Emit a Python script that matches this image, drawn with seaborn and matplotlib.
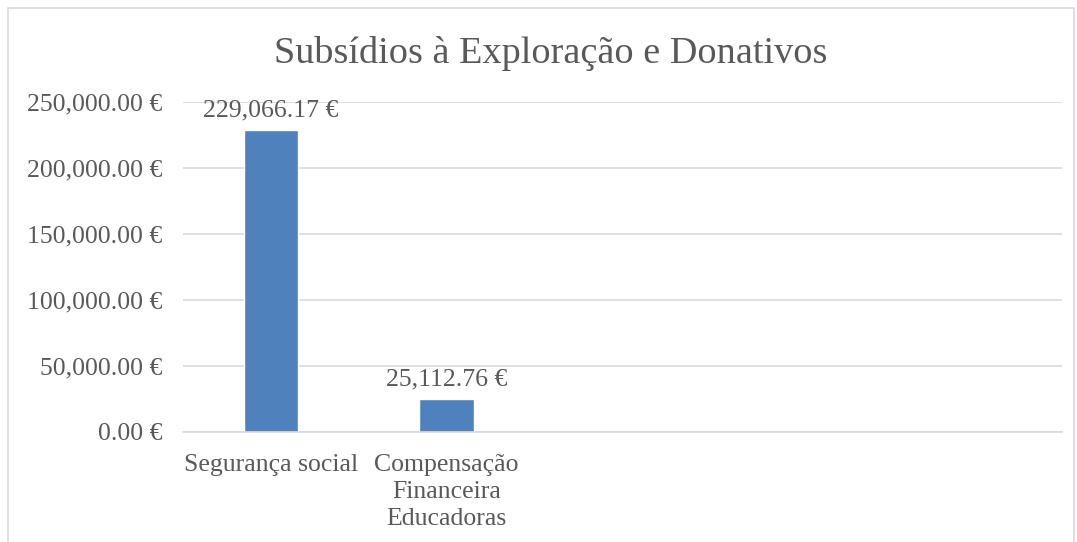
import numpy as np
import pandas as pd
import matplotlib
matplotlib.use("Agg")
import matplotlib.pyplot as plt
import seaborn as sns
from matplotlib.patches import Rectangle

categories = ["Segurança social", "Compensação\nFinanceira\nEducadoras", " ", "  ", "   "]
values = [229066.17, 25112.76, np.nan, np.nan, np.nan]
yticks = [0, 50000, 100000, 150000, 200000, 250000]
title = "Subsídios à Exploração e Donativos"

sns.set_theme(style="white")
plt.rcParams['font.family'] = ['Liberation Serif', 'DejaVu Serif']
text_color = "#595959"

fig = plt.figure(figsize=(10.77, 5.42), dpi=100)
ax = fig.add_axes([0.170, 0.203, 0.816, 0.609])

df = pd.DataFrame({"cat": categories, "val": values})
sns.barplot(data=df, x="cat", y="val", order=categories, color="#4f81bd",
            width=0.31, saturation=1, ax=ax)

ax.set_ylim(0, 250000)
ax.set_yticks(yticks)
ax.set_yticklabels([f"{v:,.2f} €" for v in yticks], fontsize=18.5, color=text_color)
ax.set_xticks(range(len(categories)))
ax.set_xticklabels(categories, fontsize=18.5, color=text_color, linespacing=1.3)
ax.set_xlim(-0.5, len(categories) - 0.5)
ax.set_xlabel("")
ax.set_ylabel("")
ax.tick_params(axis="y", length=0, pad=15)
ax.tick_params(axis="x", length=0, pad=16)
ax.yaxis.grid(True, color="#d9d9d9", linewidth=1.2)
ax.set_axisbelow(True)
for s in ["top", "right", "left"]:
    ax.spines[s].set_visible(False)
ax.spines["bottom"].set_color("#d9d9d9")
ax.spines["bottom"].set_linewidth(1.2)

for i, v in enumerate(values):
    if not np.isnan(v):
        ax.annotate(f"{v:,.2f} €", (i, v), xytext=(0, 6), textcoords="offset points",
                    ha="center", va="bottom", fontsize=18.5, color=text_color)

fig.text(0.511, 0.901, title, ha="center", va="center", fontsize=27.5, color=text_color)

fig.patches.append(Rectangle((0.007, -0.05), 0.99, 1.035, transform=fig.transFigure,
                             fill=False, edgecolor="#d9d9d9", linewidth=1.2))

fig.savefig("out.png", dpi=100)
